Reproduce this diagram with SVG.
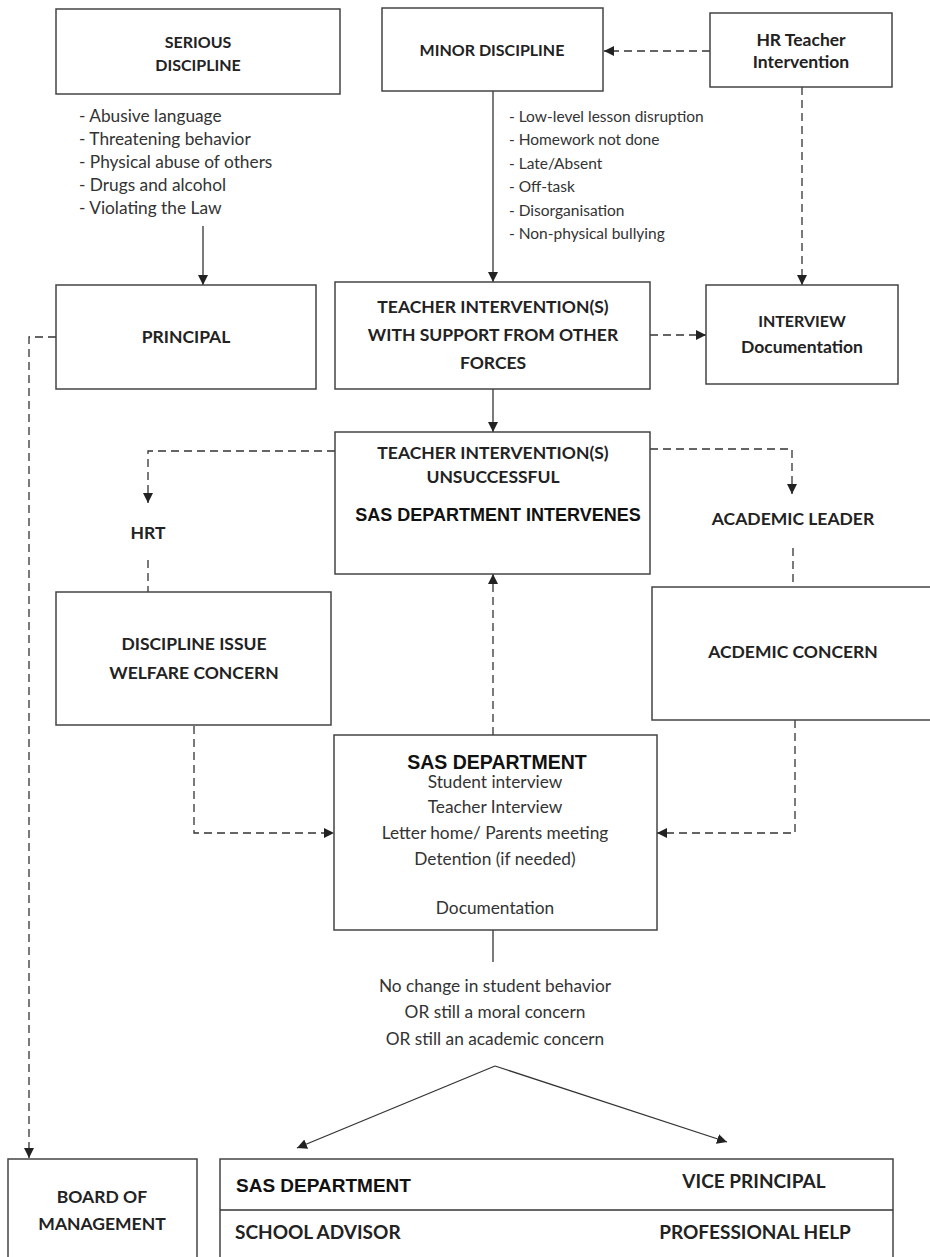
<svg xmlns="http://www.w3.org/2000/svg" width="930" height="1257" viewBox="0 0 930 1257">
<style>
.box{fill:#fff;stroke:#444;stroke-width:1.5}
.b{font-family:Lato,"Liberation Sans",sans-serif;font-weight:bold;fill:#222;text-anchor:middle}
.s16{font-size:16px}
.s17{font-size:17.5px}
.s19{font-size:19px}
.st{text-anchor:start}
.g{font-family:"Liberation Sans",Lato,sans-serif;font-weight:bold;fill:#111}
.t{font-family:Lato,"Liberation Sans",sans-serif;fill:#333}
.r15{font-size:15.5px}
.r17{font-size:17.3px}
.c{text-anchor:middle}
.ln{fill:none;stroke:#333;stroke-width:1.3}
.d{stroke-dasharray:8 5}
</style>
<defs>
<marker id="ah" markerUnits="userSpaceOnUse" markerWidth="10" markerHeight="10" refX="10" refY="5" orient="auto">
<path d="M0,0 L10,5 L0,10 z" fill="#222"/>
</marker>
</defs>
<rect width="930" height="1257" fill="#fff"/>
<g id="connectors">
<path class="ln d" d="M710,51 L604,51" marker-end="url(#ah)"/>
<path class="ln" d="M493,91 L493,282" marker-end="url(#ah)"/>
<path class="ln d" d="M802,87 L802,285" marker-end="url(#ah)"/>
<path class="ln" d="M203,226 L203,285" marker-end="url(#ah)"/>
<path class="ln d" d="M650,335 L706,335" marker-end="url(#ah)"/>
<path class="ln" d="M493,389 L493,432" marker-end="url(#ah)"/>
<path class="ln d" d="M335,451 L148,451 L148,503" marker-end="url(#ah)"/>
<path class="ln d" d="M148,560 L148,592"/>
<path class="ln d" d="M650,449 L792,449 L792,494" marker-end="url(#ah)"/>
<path class="ln d" d="M793,548 L793,587"/>
<path class="ln d" d="M194,726 L194,833 L334,833" marker-end="url(#ah)"/>
<path class="ln d" d="M795,720 L795,833 L657,833" marker-end="url(#ah)"/>
<path class="ln d" d="M493,735 L493,574" marker-end="url(#ah)"/>
<path class="ln" d="M493,930 L493,962"/>
<path class="ln" d="M495,1066 L297,1148" marker-end="url(#ah)"/>
<path class="ln" d="M495,1066 L727,1142" marker-end="url(#ah)"/>
<path class="ln d" d="M56,337 L29,337 L29,1158" marker-end="url(#ah)"/>
</g>
<g id="serious">
<rect class="box" x="56" y="9" width="284" height="85"/>
<text class="b s16" x="198" y="48">SERIOUS</text>
<text class="b s16" x="198" y="71">DISCIPLINE</text>
</g>
<g id="serious-list">
<text class="t r17" x="79" y="122">- Abusive language</text>
<text class="t r17" x="79" y="145">- Threatening behavior</text>
<text class="t r17" x="79" y="168">- Physical abuse of others</text>
<text class="t r17" x="79" y="191">- Drugs and alcohol</text>
<text class="t r17" x="79" y="214">- Violating the Law</text>
</g>
<g id="minor">
<rect class="box" x="382" y="8" width="221" height="83"/>
<text class="b s16" x="492" y="56">MINOR DISCIPLINE</text>
</g>
<g id="minor-list">
<text class="t r15" x="509" y="122">- Low-level lesson disruption</text>
<text class="t r15" x="509" y="145">- Homework not done</text>
<text class="t r15" x="509" y="169">- Late/Absent</text>
<text class="t r15" x="509" y="192">- Off-task</text>
<text class="t r15" x="509" y="216">- Disorganisation</text>
<text class="t r15" x="509" y="239">- Non-physical bullying</text>
</g>
<g id="hr-teacher">
<rect class="box" x="710" y="13" width="182" height="74"/>
<text class="b s17" x="801" y="46">HR Teacher</text>
<text class="b s17" x="801" y="68">Intervention</text>
</g>
<g id="principal">
<rect class="box" x="56" y="285" width="260" height="104"/>
<text class="b s17" x="186" y="343">PRINCIPAL</text>
</g>
<g id="teacher-intervention">
<rect class="box" x="335" y="282" width="315" height="107"/>
<text class="b s17" x="493" y="313">TEACHER INTERVENTION(S)</text>
<text class="b s17" x="493" y="341">WITH SUPPORT FROM OTHER</text>
<text class="b s17" x="493" y="369">FORCES</text>
</g>
<g id="interview">
<rect class="box" x="706" y="285" width="192" height="99"/>
<text class="b s16" x="802" y="327">INTERVIEW</text>
<text class="b s17" x="802" y="353">Documentation</text>
</g>
<g id="unsuccessful">
<rect class="box" x="335" y="432" width="315" height="142"/>
<text class="b s17" x="493" y="459">TEACHER INTERVENTION(S)</text>
<text class="b s17" x="493" y="483">UNSUCCESSFUL</text>
<text class="g c" x="498" y="521" font-size="18">SAS DEPARTMENT INTERVENES</text>
</g>
<g id="hrt">
<text class="b s17" x="148" y="539">HRT</text>
</g>
<g id="discipline-issue">
<rect class="box" x="56" y="592" width="275" height="133"/>
<text class="b s17" x="194" y="650">DISCIPLINE ISSUE</text>
<text class="b s17" x="194" y="679">WELFARE CONCERN</text>
</g>
<g id="academic-leader">
<text class="b s17" x="793" y="525">ACADEMIC LEADER</text>
</g>
<g id="academic-concern">
<rect class="box" x="652" y="587" width="285" height="133"/>
<text class="b s17" x="793" y="658">ACDEMIC CONCERN</text>
</g>
<g id="sas-department">
<rect class="box" x="334" y="735" width="323" height="195"/>
<text class="g c" x="497" y="769" font-size="19.5">SAS DEPARTMENT</text>
<text class="t r17 c" x="495" y="788">Student interview</text>
<text class="t r17 c" x="495" y="813">Teacher Interview</text>
<text class="t r17 c" x="495" y="839">Letter home/ Parents meeting</text>
<text class="t r17 c" x="495" y="865">Detention (if needed)</text>
<text class="t r17 c" x="495" y="914">Documentation</text>
</g>
<g id="outcome">
<text class="t r17 c" x="495" y="992">No change in student behavior</text>
<text class="t r17 c" x="495" y="1018">OR still a moral concern</text>
<text class="t r17 c" x="495" y="1045">OR still an academic concern</text>
</g>
<g id="board">
<rect class="box" x="8" y="1159" width="189" height="110"/>
<text class="b s17" x="102" y="1203">BOARD OF</text>
<text class="b s17" x="102" y="1230">MANAGEMENT</text>
</g>
<g id="options">
<rect class="box" x="220" y="1159" width="673" height="110"/>
<line class="ln" x1="220" y1="1210" x2="893" y2="1210"/>
<text class="g" x="236" y="1192" font-size="19">SAS DEPARTMENT</text>
<text class="b s19" x="754" y="1188">VICE PRINCIPAL</text>
<text class="b s19 st" x="235" y="1239">SCHOOL ADVISOR</text>
<text class="b s19" x="755" y="1239">PROFESSIONAL HELP</text>
</g>
</svg>
